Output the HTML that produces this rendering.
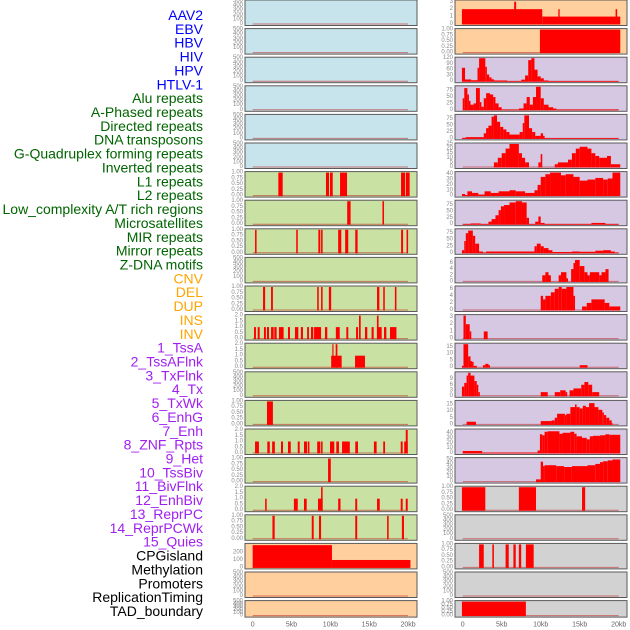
<!DOCTYPE html>
<html><head><meta charset="utf-8">
<style>
html,body{margin:0;padding:0;background:#fff;width:630px;height:630px;overflow:hidden;}
svg{display:block;font-family:"Liberation Sans",sans-serif;}
</style></head>
<body>
<svg id="chart" width="630" height="630" viewBox="0 0 630 630" xmlns="http://www.w3.org/2000/svg">
<g id="labels"></g>
<g id="panels"></g>
<g id="xaxes"></g>
</svg>
<script>
const trackLabels = ["AAV2","EBV","HBV","HIV","HPV","HTLV-1","Alu repeats","A-Phased repeats","Directed repeats","DNA transposons","G-Quadruplex forming repeats","Inverted repeats","L1 repeats","L2 repeats","Low_complexity A/T rich regions","Microsatellites","MIR repeats","Mirror repeats","Z-DNA motifs","CNV","DEL","DUP","INS","INV","1_TssA","2_TssAFlnk","3_TxFlnk","4_Tx","5_TxWk","6_EnhG","7_Enh","8_ZNF_Rpts","9_Het","10_TssBiv","11_BivFlnk","12_EnhBiv","13_ReprPC","14_ReprPCWk","15_Quies","CPGisland","Methylation","Promoters","ReplicationTiming","TAD_boundary"];
const labelGroups = ["v","v","v","v","v","v","r","r","r","r","r","r","r","r","r","r","r","r","r","s","s","s","s","s","c","c","c","c","c","c","c","c","c","c","c","c","c","c","c","o","o","o","o","o"];
const xTickLabels = ["0","5kb","10kb","15kb","20kb"];
const xTickValues = [0,5,10,15,20];
const ticks500 = [0,100,200,300,400,500];
const ticks1 = ["0.00","0.25","0.50","0.75","1.00"];
const ticks2 = ["0.0","0.5","1.0","1.5","2.0"];

const segL6 = [[3.3,3.86,1],[9.43,9.82,1],[9.95,10.3,1],[11.24,12.14,1],[19.09,19.6,1],[19.7,20.2,1]];
const segL7 = [[12.16,12.6,1],[16.7,16.9,1]];
const segL8 = [[0.3,0.5,1],[5.6,5.8,1],[8.45,8.7,1],[8.8,9.0,1],[11.0,11.4,1],[11.9,12.3,1],[13.2,13.5,1],[19.1,19.35,1],[19.8,20.0,1]];
const segL10 = [[1.33,1.6,1],[2.36,2.6,1],[8.3,8.5,1],[8.8,9.0,1],[9.8,10.1,1],[16.0,16.3,1],[16.8,17.0,1],[18.3,18.5,1]];
const segL11 = [[0.17,0.42,1],[0.64,0.9,1],[1.45,1.7,1],[1.84,2.1,1],[2.36,2.7,1],[2.78,3.08,1],[3.38,3.98,1],[4.54,4.8,1],[5.44,5.87,1],[6.2,6.47,1],[7.0,7.24,1],[7.5,7.8,1],[7.9,8.8,1],[9.3,9.6,1],[10.7,11.2,1],[12.05,12.3,1],[13.3,13.55,1],[13.68,13.9,2],[14.45,14.75,1],[15.3,15.57,1],[15.99,16.6,1],[15.99,16.2,2],[16.9,17.2,1],[17.67,18.5,1]];
const segL12 = [[10.1,11.45,1],[10.25,10.4,2],[10.68,10.9,2],[13.17,14.45,1]];
const segL14 = [[1.84,2.6,1]];
const segL15 = [[0.3,0.8,1],[1.88,2.2,1],[2.5,2.85,1],[3.64,3.9,1],[4.54,4.9,1],[5.8,6.05,1],[6.6,7.0,1],[7.1,7.3,1],[8.3,8.7,1],[8.8,9.0,1],[9.95,10.5,1],[10.76,11.1,1],[11.5,12.5,1],[13.2,13.55,1],[15.6,15.95,1],[16.8,17.03,1],[19.05,19.3,1],[19.5,19.95,1],[19.7,19.95,2]];
const segL16 = [[9.7,10.05,1]];
const segL17 = [[1.6,1.8,1],[5.3,5.8,1],[6.6,6.95,1],[8.4,9.0,1],[8.8,9.0,2],[11.0,11.3,1],[13.2,13.45,1],[16.0,16.35,1],[19.05,19.3,1],[19.7,19.95,1]];
const segL18 = [[2.54,2.83,1],[7.6,7.85,1],[8.53,8.8,1],[13.2,13.45,1],[17.3,17.5,1],[19.2,19.47,1]];
const segL19 = [[0,10.2,300],[10.2,20.3,100]];

const segR0 = [[-0.1,10.2,2],[10.2,20.2,1],[6.6,6.85,3],[12.26,12.43,2],[19.6,19.8,2]];
const segR1 = [[9.9,20.2,1]];
const segR2 = [[-0.1,0.3,70],[0.3,1.1,9],[1.1,1.9,5],[1.9,2.1,70],[2.1,2.9,120],[2.9,3.1,75],[3.1,3.4,35],[3.4,3.7,20],[3.7,4.0,10],[4.0,5.7,4],[5.7,7.5,1],[7.5,8.0,8],[8.0,8.4,30],[8.4,8.8,110],[8.8,9.2,120],[9.2,9.6,60],[9.6,10.0,25],[10.0,10.4,15],[10.4,11.0,4],[11.0,20,1]];
const segR3 = [[0,0.2,45],[0.2,0.6,85],[0.6,0.8,60],[0.8,1.0,35],[1.0,1.4,20],[1.4,1.7,25],[1.7,2.2,85],[2.2,2.4,30],[2.4,2.7,12],[2.7,3.0,45],[3.0,3.5,65],[3.5,3.9,60],[3.9,4.2,50],[4.2,4.6,25],[4.6,5.0,10],[5.0,7.2,1],[7.2,7.8,5],[7.8,8.2,25],[8.2,8.6,50],[8.6,9.0,20],[9.0,9.4,50],[9.4,10.0,90],[10.0,10.4,45],[10.4,11.0,20],[11.0,11.6,10],[11.6,12,5],[12,20,1]];
const segR4 = [[-0.1,0.4,2],[0.4,2.7,5],[2.7,3.0,20],[3.0,3.3,40],[3.3,3.7,50],[3.7,4.0,85],[4.0,4.4,90],[4.4,4.8,65],[4.8,5.2,45],[5.2,5.6,35],[5.6,6.0,25],[6.0,7.3,15],[7.3,7.7,25],[7.7,7.9,60],[7.9,8.5,90],[8.5,8.9,40],[8.9,9.3,25],[9.3,10.0,10],[10.0,10.3,20],[10.3,10.5,10],[10.5,20,1]];
const segR5 = [[4.0,4.5,5],[4.5,5.0,10],[5.0,5.5,15],[5.5,6.0,20],[6.0,7.2,25],[7.2,7.6,15],[7.6,8.0,10],[8.0,8.5,5],[9.7,10.0,5],[10.0,10.2,14],[11.8,12.2,3],[12.2,13.5,5],[13.5,14.0,8],[14.0,14.5,15],[14.5,15.0,20],[15.0,16.0,22],[16.0,16.5,20],[16.5,17.0,15],[17.0,17.5,12],[17.5,18.5,10],[18.5,19.0,12],[19.0,20.2,3]];
const segR6 = [[-0.1,0.3,3],[0.3,0.6,1],[0.6,1.2,8],[1.2,2.0,5],[2.0,2.8,2],[2.8,3.6,8],[3.6,4.6,5],[4.6,6.0,8],[6.0,6.8,10],[6.8,8.0,8],[8.0,9.2,5],[9.2,9.6,10],[9.6,10.0,20],[10.0,10.6,35],[10.6,11.2,40],[11.2,12.6,43],[12.6,13.2,38],[13.2,14.2,40],[14.2,15.0,35],[15.0,16.0,28],[16.0,17.0,30],[17.0,18.0,33],[18.0,18.6,30],[18.6,19.2,32],[19.2,20.2,43]];
const segR7 = [[0,1.0,1],[1.0,2.3,3],[2.3,3.3,1],[3.3,3.7,10],[3.7,4.2,20],[4.2,4.6,35],[4.6,4.9,55],[4.9,5.3,70],[5.3,6.0,75],[6.0,6.8,85],[6.8,7.6,90],[7.6,8.2,85],[8.2,8.5,25],[8.5,9.3,1],[9.3,9.7,10],[9.7,10.0,30],[10.0,10.5,5],[10.5,16.5,1],[16.5,18.3,5],[18.3,20,1]];
const segR8 = [[-0.1,0.2,10],[0.2,0.4,45],[0.4,0.7,75],[0.7,1.3,85],[1.3,1.6,65],[1.6,2.1,35],[2.1,2.6,5],[2.6,3.0,1],[3.0,9.2,5],[9.2,9.5,25],[9.5,10.0,35],[10.0,10.4,25],[10.4,11.0,18],[11.0,11.5,10],[11.5,14.0,3],[14.0,15.0,5],[15.0,17.0,4],[17.0,18.0,8],[18.0,19.0,10],[19.0,19.5,5],[19.5,20,1]];
const segR9 = [[10.2,10.6,2],[10.6,11.0,3],[11.0,11.3,2],[12.3,12.6,2],[12.6,13.3,3],[13.3,13.5,1],[13.9,14.2,4],[14.2,14.4,6],[14.4,15.0,7],[15.0,15.6,5],[15.6,16.0,3],[16.0,16.3,2],[16.3,17.5,3],[17.5,17.8,2],[17.8,18.3,3],[18.3,18.7,4]];
const segR10 = [[10.0,10.3,4],[10.3,10.6,3],[10.6,11.3,4],[11.3,11.8,5],[11.8,12.3,6],[12.3,12.7,6.5],[12.7,13.3,6],[13.3,14.2,6.5],[14.2,14.4,4],[15.3,15.9,1],[15.9,16.5,2],[16.5,18.2,3],[18.2,18.8,2],[18.8,20.2,1]];
const segR11 = [[0.1,0.4,3.2],[0.4,0.9,2],[0.9,1.1,1],[2.7,3.2,1]];
const segR12 = [[-0.1,0.1,1],[0.1,0.7,17],[0.7,1.0,8],[1.0,1.2,4.5],[1.2,1.4,4],[1.4,1.8,1],[2.6,2.9,1.5],[2.9,3.3,2.5],[3.3,3.5,1.5],[15.0,16.0,1.5]];
const segR13 = [[-0.1,0.2,5],[0.2,0.5,7],[0.5,0.7,11],[0.7,1.0,12.5],[1.0,1.5,11],[1.5,1.8,8],[1.8,2.0,6],[2.0,2.2,2],[10.0,10.9,2],[11.8,12.5,2],[12.5,13.2,3],[13.2,13.4,2],[13.7,14.2,3],[14.2,15.2,4],[15.2,15.6,6],[15.6,16.1,7.5],[16.1,16.6,6],[16.6,17.5,2]];
const segR14 = [[0.5,1.7,2],[10.0,11.4,2.5],[11.4,11.8,3],[11.8,12.1,5],[12.1,13.1,8],[13.1,13.3,7],[13.3,13.8,8],[13.8,14.4,13],[14.4,14.6,15],[14.6,15.0,13],[15.0,15.4,12],[15.4,15.8,14],[15.8,16.2,13],[16.2,16.9,16],[16.9,17.4,13],[17.4,17.9,11],[17.9,18.1,9],[18.1,18.4,7],[18.4,18.8,5],[18.8,19.1,3],[19.1,19.2,1]];
const segR15 = [[0,2.5,4],[2.5,9.6,1],[9.6,9.9,5],[9.9,10.2,37],[10.2,10.5,35],[10.5,10.9,42],[10.9,12.4,43],[12.4,12.8,38],[12.8,13.8,40],[13.8,14.3,42],[14.3,14.6,38],[14.6,15.3,33],[15.3,15.9,30],[15.9,16.3,27],[16.3,16.7,33],[16.7,17.6,34],[17.6,18.3,35],[18.3,18.8,37],[18.8,20.2,36]];
const segR16 = [[9.4,10.0,5],[10.0,10.3,45],[10.3,10.5,35],[10.5,12.0,37],[12.0,13.0,35],[13.0,14.0,33],[14.0,16.0,35],[16.0,17.0,37],[17.0,17.6,40],[17.6,18.0,44],[18.0,18.6,46],[18.6,19.2,48],[19.2,20.2,50]];
const segR17 = [[-0.1,2.9,1],[7.2,9.4,1],[15.3,15.7,1]];
const segR19 = [[2.1,2.7,1],[3.8,4.0,1],[5.5,5.9,1],[6.5,6.8,1],[7.2,7.5,1],[8.1,9.1,1]];
const segR21 = [[-0.1,8.1,1]];

const BG = {b:"#c7e4ec",g:"#c9e1a3",o:"#ffcf9e",p:"#d6c7e3",k:"#d2d2d2"};
const leftPanels = [
 ["b",ticks500,500,[]],["b",ticks500,500,[]],["b",ticks500,500,[]],["b",ticks500,500,[]],["b",ticks500,500,[]],["b",ticks500,500,[]],
 ["g",ticks1,1,segL6],["g",ticks1,1,segL7],["g",ticks1,1,segL8],["g",ticks500,500,[]],["g",ticks1,1,segL10],["g",ticks2,2,segL11],["g",ticks2,2,segL12],["g",ticks500,500,[]],
 ["g",ticks1,1,segL14],["g",ticks2,2,segL15],["g",ticks1,1,segL16],["g",ticks2,2,segL17],["g",ticks1,1,segL18],
 ["o",[0,100,200],310,segL19],["o",ticks500,500,[]],["o",ticks500,500,[]]
];
const rightPanels = [
 ["o",[0,1,2,3],3.1,segR0],["o",ticks1,1,segR1],
 ["p",[0,30,60,90,120],120,segR2],["p",[0,25,50,75],90,segR3],["p",[0,25,50,75],90,segR4],["p",[0,5,10,15,20,25],25,segR5],
 ["p",[0,10,20,30,40],43,segR6],["p",[0,25,50,75],90,segR7],["p",[0,25,50,75],88,segR8],["p",[0,2,4,6],7.5,segR9],
 ["p",[0,2,4,6],6.5,segR10],["p",[0,1,2,3],3.2,segR11],["p",[0,5,10,15],17,segR12],["p",[0,3,6,9],12.5,segR13],
 ["p",[0,5,10,15],17.3,segR14],["p",[0,10,20,30,40],45.5,segR15],["p",[0,10,20,30,40,50],52,segR16],
 ["k",ticks1,1,segR17],["k",ticks500,500,[]],["k",ticks1,1,segR19],["k",ticks500,500,[]],["k",ticks1,1,segR21]
];

const NS="http://www.w3.org/2000/svg";
function mk(tag, attrs, parent){const e=document.createElementNS(NS,tag);for(const k in attrs)e.setAttribute(k,attrs[k]);parent.appendChild(e);return e;}
const colGeom = [{x0:245,x1:417,k0:252.7,pxPerKb:7.77},{x0:455,x1:627,k0:462.7,pxPerKb:7.8}];
function xScale(kb,col){return colGeom[col].k0+kb*colGeom[col].pxPerKb;}
function rowTop(i){return i*28.6;}
function rowH(i){return i===21?16.5:25.5;}
function yScale(v,i,yMax){const b=rowTop(i)+rowH(i)-1.5,t=rowTop(i)+1;return b-(v/yMax)*(b-t);}

const labG=document.getElementById('labels');
const colors={v:"#0000ff",r:"#006400",s:"#ffa500",c:"#a020f0",o:"#000000"};
trackLabels.forEach((t,i)=>{
  const e=mk('text',{x:203,y:15+i*13.86,'text-anchor':'end','dominant-baseline':'central','font-size':14,fill:colors[labelGroups[i]]},labG);
  
  
  e.textContent=t;
});

const pg=document.getElementById('panels');
[leftPanels,rightPanels].forEach((panels,col)=>{
  panels.forEach((p,i)=>{
    const [bg,ticks,yMax,segs]=p;
    const g=mk('g',{},pg);
    
    
    const top=rowTop(i),h=rowH(i),cg=colGeom[col];
    mk('rect',{x:cg.x0,y:top,width:cg.x1-cg.x0,height:h,fill:BG[bg],stroke:"#5a5a5a",'stroke-width':1},g);
    ticks.forEach(t=>{
      const v=parseFloat(t);
      const e=mk('text',{x:cg.x0-2,y:yScale(v,i,yMax),'text-anchor':'end','dominant-baseline':'central','font-size':6,fill:"#888"},g);
      
      
      e.textContent=String(t);
    });
    mk('line',{x1:xScale(0,col),x2:xScale(20,col),y1:yScale(0,i,yMax),y2:yScale(0,i,yMax),stroke:"rgba(190,40,40,0.6)",'stroke-width':1},g);
    segs.forEach(s=>{
      const x=xScale(s[0],col),x2=xScale(s[1],col),y=yScale(s[2],i,yMax),y0=yScale(0,i,yMax);
      const r=mk('rect',{x:x,y:y,width:Math.max(0.8,x2-x),height:Math.max(0,y0-y+0.5),fill:"#ff0000"},g);
      
      
    });
  });
});

const xg=document.getElementById('xaxes');
[0,1].forEach(col=>{
  xTickValues.forEach((v,j)=>{
    const e=mk('text',{x:xScale(v,col),y:625,'text-anchor':'middle','dominant-baseline':'central','font-size':7,fill:"#666"},xg);
    
    
    e.textContent=xTickLabels[j];
  });
});
</script>
</body></html>
